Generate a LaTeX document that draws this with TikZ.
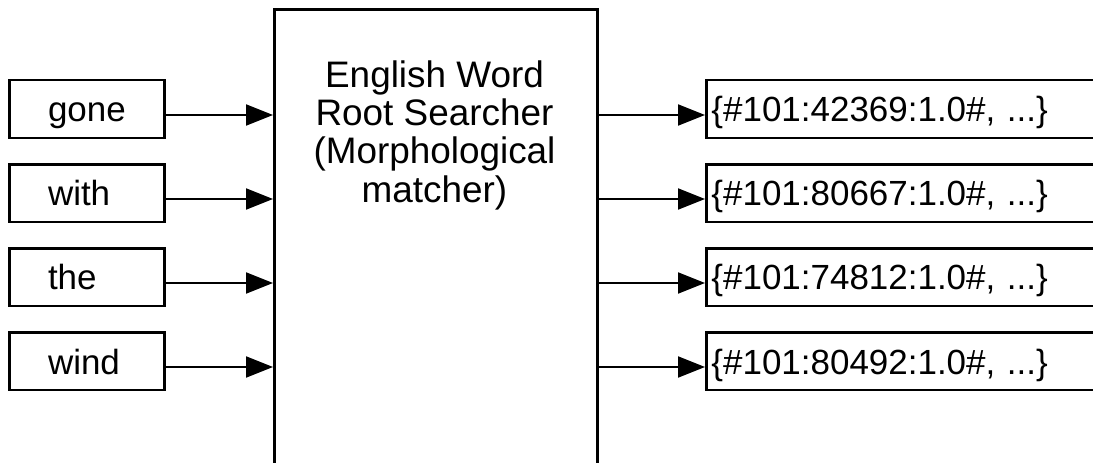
\documentclass[tikz,border=0pt]{standalone}
\usepackage{fontspec}
\setmainfont{Liberation Sans}
\usetikzlibrary{arrows.meta}

\begin{document}
\begin{tikzpicture}[x=0.02cm, y=-0.02cm, line width=1.7pt,
    font=\fontsize{19.9}{21.8}\selectfont,
    wordbox/.style={draw, minimum width=3.12cm, minimum height=1.16cm,
      inner xsep=0.78cm, inner ysep=0.1cm, text width=1.56cm,
      text height=0.62cm, text depth=0.1cm, align=left},
    hitbox/.style={draw, anchor=west, minimum width=8cm, minimum height=1.16cm,
      inner xsep=0.1cm, inner ysep=0.1cm, text width=7.8cm,
      text height=0.62cm, text depth=0.1cm, align=left},
    feed/.style={line width=1.15pt, -{Triangle[length=0.54cm, width=0.42cm]}}]
  % --- page frame ---
  \clip (0,0) rectangle (1093,463);

  % --- searcher block (runs past the lower edge) ---
  \node[draw, anchor=north west, minimum width=6.46cm, minimum height=10cm]
    (searcher) at (273,8) {};
  \node[anchor=north, inner sep=0pt, align=center,
    font=\fontsize{21}{21.8}\selectfont] (searchlabel) at (434.5,59)
    {English Word\\Root Searcher\\(Morphological\\matcher)};

  % --- input words, arrows in and root lists out ---
  \foreach \w/\h [count=\i] in {gone/42369, with/80667, the/74812, wind/80492} {
    \node[wordbox] (w\i) at (87,25+84*\i) {\w};
    \node[hitbox] (h\i) at (705,25+84*\i) {\{\#101:\h:1.0\#, ...\}};
    \draw[feed] (w\i.east) ++(0,6) coordinate (a\i) -- (a\i -| searcher.west);
    \draw[feed] (a\i -| searcher.east) -- (a\i -| h\i.west);
  }
\end{tikzpicture}
\end{document}
